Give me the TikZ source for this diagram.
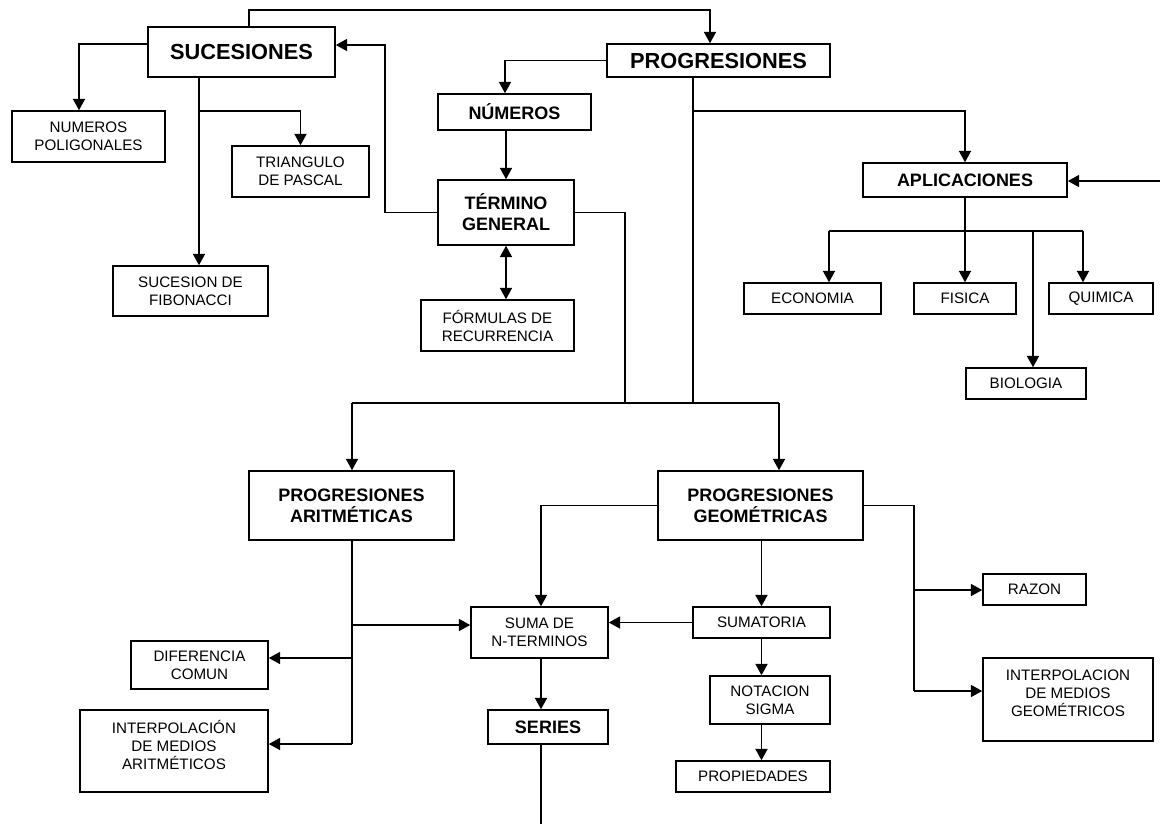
\documentclass[tikz,border=0pt]{standalone}
\usepackage{fontspec}
\setmainfont{Liberation Sans}
\usetikzlibrary{arrows.meta}

\begin{document}
\begin{tikzpicture}[x=0.025cm, y=-0.025cm, line width=1.1pt,
  box/.style={draw, black, inner sep=0pt, align=center},
  big/.style={box, font=\fontsize{15.5}{18}\selectfont\bfseries},
  mid/.style={box, font=\fontsize{12.8}{15}\selectfont\bfseries},
  small/.style={box, font=\fontsize{10.8}{12.8}\selectfont},
  arr/.style={-{Triangle[length=8pt,width=8.5pt]}},
  arrr/.style={{Triangle[length=8pt,width=8.5pt]}-{Triangle[length=8pt,width=8.5pt]}}]

\useasboundingbox (0,0) rectangle (1160,824);

\draw
(241.5,52) node[big, minimum width=4.675cm, minimum height=1.25cm](sucesiones){SUCESIONES}
(718.5,60.5) node[big, minimum width=5.575cm, minimum height=0.825cm](progresiones){PROGRESIONES}
(514.5,112) node[mid, minimum width=3.825cm, minimum height=0.9cm](numeros){NÚMEROS}
(506,212.5) node[mid, minimum width=3.4cm, minimum height=1.625cm](termino){TÉRMINO\\GENERAL}
(497.5,325.5) node[small, minimum width=3.825cm, minimum height=1.275cm](formulas){FÓRMULAS DE\\RECURRENCIA}
(88.5,136.5) node[small, minimum width=3.825cm, minimum height=1.275cm](poligonales){NUMEROS\\POLIGONALES}
(300.5,171.5) node[small, minimum width=3.425cm, minimum height=1.275cm](pascal){TRIANGULO\\DE PASCAL}
(190.5,291) node[small, minimum width=3.875cm, minimum height=1.25cm](fibonacci){SUCESION DE\\FIBONACCI}

(965,180) node[mid, minimum width=5.1cm, minimum height=0.85cm](aplicaciones){APLICACIONES}
(812.5,298.5) node[small, minimum width=3.425cm, minimum height=0.775cm](economia){ECONOMIA}
(965,298.5) node[small, minimum width=2.55cm, minimum height=0.775cm](fisica){FISICA}
(1101,298.5) node[small, minimum width=2.6cm, minimum height=0.775cm](quimica){QUIMICA}
(1026,383.5) node[small, minimum width=3cm, minimum height=0.775cm](biologia){BIOLOGIA}

(351.5,505.5) node[mid, minimum width=5.125cm, minimum height=1.725cm](aritmeticas){PROGRESIONES\\ARITMÉTICAS}
(760.5,505.5) node[mid, minimum width=5.125cm, minimum height=1.725cm](geometricas){PROGRESIONES\\GEOMÉTRICAS}
(539.5,632.5) node[small, minimum width=3.425cm, minimum height=1.275cm](suma){SUMA DE\\N-TERMINOS}
(761.5,622.5) node[small, minimum width=3.425cm, minimum height=0.775cm](sumatoria){SUMATORIA}
(770,700) node[small, minimum width=3cm, minimum height=1.2cm](notacion){NOTACION\\SIGMA}
(753,776.5) node[small, minimum width=3.85cm, minimum height=0.775cm](propiedades){PROPIEDADES}
(548,727) node[mid, minimum width=3cm, minimum height=0.85cm](series){SERIES}
(199.5,665) node[small, minimum width=3.425cm, minimum height=1.2cm](diferencia){DIFERENCIA\\COMUN}
(174,751) node[small, minimum width=4.7cm, minimum height=2.05cm, text depth=0.3cm](interpa){INTERPOLACIÓN\\DE MEDIOS\\ARITMÉTICOS}
(1034.5,589.5) node[small, minimum width=2.575cm, minimum height=0.775cm](razon){RAZON}
(1068,699.5) node[small, minimum width=4.25cm, minimum height=2.075cm, text depth=0.3cm](intergeo){INTERPOLACION\\DE MEDIOS\\GEOMÉTRICOS};

% bends of the connectors
\coordinate (t1) at (249,10);
\coordinate (t2) at (710,10);
\coordinate (p1) at (79,44);
\coordinate (s1) at (199,111);
\coordinate (g1) at (385,45);
\coordinate (n1) at (505,60.5);
\coordinate (q1) at (693,111);
\coordinate (q2) at (693,403);
\coordinate (r1) at (625,403);
\coordinate (h1) at (352,403);
\coordinate (h2) at (779,403);
\coordinate (e1) at (1160,181);
\coordinate (a1) at (829,231);
\coordinate (a2) at (1083,231);
\coordinate (a3) at (1033,231);
\coordinate (m1) at (352,744);
\coordinate (m2) at (352,625);
\coordinate (m3) at (352,658);
\coordinate (k1) at (541,505.5);
\coordinate (b1) at (541,824);
\coordinate (w2) at (914,691);
\coordinate (w3) at (914,590);

% sucesiones
\draw[arr] (sucesiones.north -| t1) -- (t1) -- (t2) -- (progresiones.north -| t2);
\draw[arr] (sucesiones.west |- p1) -- (p1) -- (poligonales.north -| p1);
\draw[arr] (sucesiones.south -| s1) -- (fibonacci.north -| s1);
\draw[arr] (s1) -| (pascal.north);
\draw[arr] (termino.west) -| (g1) -- (sucesiones.east |- g1);

% progresiones
\draw[arr] (progresiones.west) -- (n1) -- (numeros.north -| n1);
\draw[arr] (numeros.south -| termino.north) -- (termino.north);
\draw[arrr] (termino.south) -- (formulas.north -| termino.south);
\draw (progresiones.south -| q1) -- (q2);
\draw[arr] (q1) -| (aplicaciones.north);
\draw (termino.east) -| (r1);
\draw (h1) -- (h2);
\draw[arr] (h1) -- (aritmeticas.north -| h1);
\draw[arr] (h2) -- (geometricas.north -| h2);

% aplicaciones
\draw[arr] (e1) -- (aplicaciones.east |- e1);
\draw (aplicaciones.south) -- (aplicaciones.south |- a1);
\draw (a1) -- (a2);
\draw[arr] (a1) -- (economia.north -| a1);
\draw[arr] (aplicaciones.south |- a1) -- (fisica.north);
\draw[arr] (a2) -- (quimica.north -| a2);
\draw[arr] (a3) -- (biologia.north -| a3);

% aritmeticas
\draw (aritmeticas.south -| m1) -- (m1);
\draw[arr] (m2) -- (suma.west |- m2);
\draw[arr] (m3) -- (diferencia.east |- m3);
\draw[arr] (m1) -- (interpa.east |- m1);

% geometricas
\draw[arr] (geometricas.west) -- (k1) -- (suma.north -| k1);
\draw[arr] (geometricas.south -| sumatoria.north) -- (sumatoria.north);
\draw[arr] (sumatoria.west) -- (suma.east |- sumatoria.west);
\draw[arr] (sumatoria.south) -- (notacion.north -| sumatoria.south);
\draw[arr] (notacion.south -| sumatoria.south) -- (propiedades.north -| sumatoria.south);
\draw[arr] (suma.south -| k1) -- (series.north -| k1);
\draw (series.south -| k1) -- (b1);
\draw (geometricas.east) -| (w2);
\draw[arr] (w3) -- (razon.west |- w3);
\draw[arr] (w2) -- (intergeo.west |- w2);
\end{tikzpicture}
\end{document}
